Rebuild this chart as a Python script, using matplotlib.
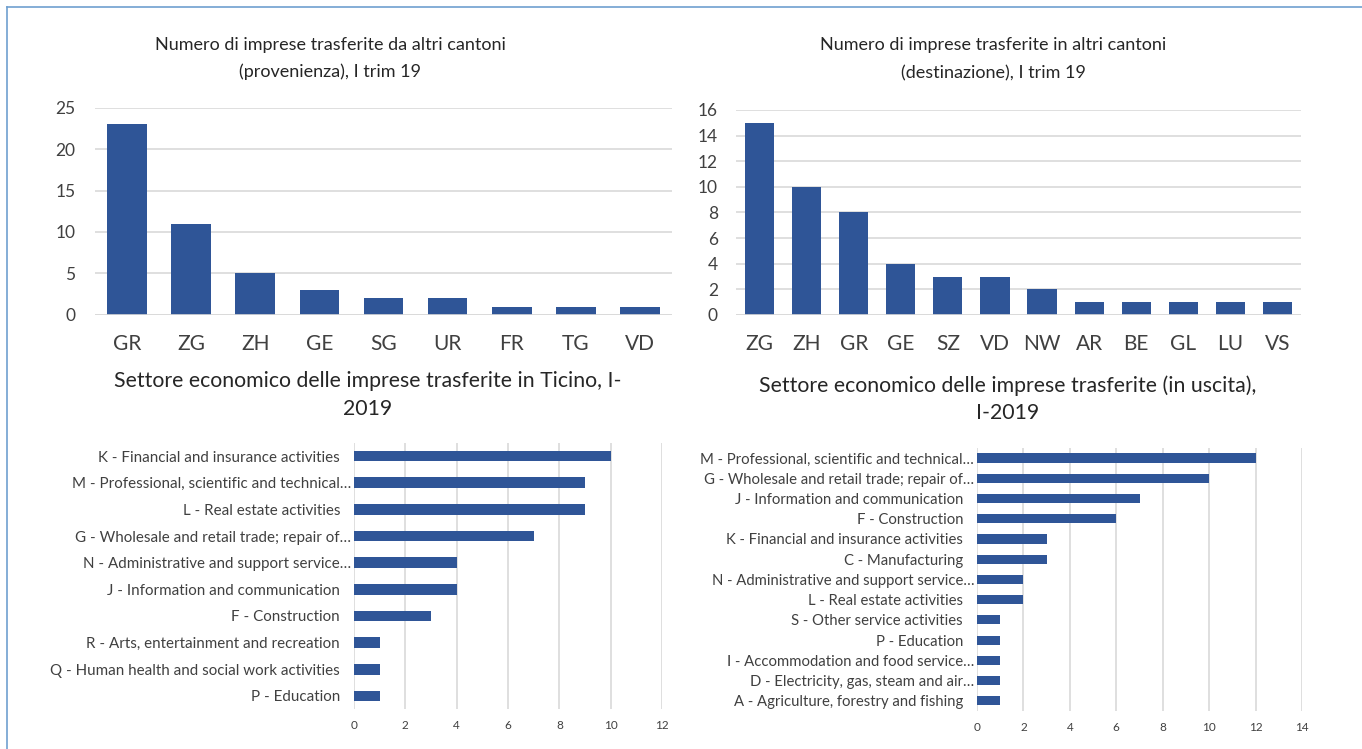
import matplotlib
matplotlib.use("Agg")
import matplotlib.pyplot as plt
from matplotlib.lines import Line2D

plt.rcParams['font.family'] = ['Lato', 'DejaVu Sans']

# ---- data ----
prov_cantons = ["GR", "ZG", "ZH", "GE", "SG", "UR", "FR", "TG", "VD"]
prov_values = [23, 11, 5, 3, 2, 2, 1, 1, 1]

dest_cantons = ["ZG", "ZH", "GR", "GE", "SZ", "VD", "NW", "AR", "BE", "GL", "LU", "VS"]
dest_values = [15, 10, 8, 4, 3, 3, 2, 1, 1, 1, 1, 1]

in_sectors = [
    "K - Financial and insurance activities",
    "M - Professional, scientific and technical…",
    "L - Real estate activities",
    "G - Wholesale and retail trade; repair of…",
    "N - Administrative and support service…",
    "J - Information and communication",
    "F - Construction",
    "R - Arts, entertainment and recreation",
    "Q - Human health and social work activities",
    "P - Education",
]
in_values = [10, 9, 9, 7, 4, 4, 3, 1, 1, 1]

out_sectors = [
    "M - Professional, scientific and technical…",
    "G - Wholesale and retail trade; repair of…",
    "J - Information and communication",
    "F - Construction",
    "K - Financial and insurance activities",
    "C - Manufacturing",
    "N - Administrative and support service…",
    "L - Real estate activities",
    "S - Other service activities",
    "P - Education",
    "I - Accommodation and food service…",
    "D - Electricity, gas, steam and air…",
    "A - Agriculture, forestry and fishing",
]
out_values = [12, 10, 7, 6, 3, 3, 2, 2, 1, 1, 1, 1, 1]

prov_yticks = [0, 5, 10, 15, 20, 25]
dest_yticks = [0, 2, 4, 6, 8, 10, 12, 14, 16]
in_xticks = [0, 2, 4, 6, 8, 10, 12]
out_xticks = [0, 2, 4, 6, 8, 10, 12, 14]

BAR = "#2F5597"
GRID = "#D9D9D9"
TXT = "#404040"
TITLE = "#262626"

W, H = 1362, 749
fig = plt.figure(figsize=(W / 100, H / 100), dpi=100)


def rect(x0, y0, x1, y1):
    return [x0 / W, 1 - y1 / H, (x1 - x0) / W, (y1 - y0) / H]


def style(ax):
    for s in ax.spines.values():
        s.set_visible(False)
    ax.set_axisbelow(True)


# ---- top-left ----
ax1 = fig.add_axes(rect(95, 107.5, 672, 315))
style(ax1)
ax1.bar(range(len(prov_cantons)), prov_values, width=0.62, color=BAR)
ax1.set_xlim(-0.5, len(prov_cantons) - 0.5)
ax1.set_ylim(0, 25)
ax1.set_yticks(prov_yticks)
ax1.yaxis.grid(True, color=GRID, linewidth=1.2)
ax1.set_xticks(range(len(prov_cantons)))
ax1.set_xticklabels(prov_cantons)
ax1.tick_params(axis='x', length=0, pad=14, labelsize=15, labelcolor=TXT)
ax1.tick_params(axis='y', length=0, pad=14, labelsize=12.5, labelcolor=TXT)
ax1.axhline(0, color=GRID, linewidth=1.2)

# ---- top-right ----
ax2 = fig.add_axes(rect(736, 110, 1301, 315))
style(ax2)
ax2.bar(range(len(dest_cantons)), dest_values, width=0.62, color=BAR)
ax2.set_xlim(-0.5, len(dest_cantons) - 0.5)
ax2.set_ylim(0, 16)
ax2.set_yticks(dest_yticks)
ax2.yaxis.grid(True, color=GRID, linewidth=1.2)
ax2.set_xticks(range(len(dest_cantons)))
ax2.set_xticklabels(dest_cantons)
ax2.tick_params(axis='x', length=0, pad=14, labelsize=15, labelcolor=TXT)
ax2.tick_params(axis='y', length=0, pad=13, labelsize=12.5, labelcolor=TXT)
ax2.axhline(0, color=GRID, linewidth=1.2)

# ---- bottom-left ----
ax3 = fig.add_axes(rect(354, 442.7, 662, 709.3))
style(ax3)
ax3.barh(range(len(in_sectors)), in_values, height=0.4, color=BAR)
ax3.set_ylim(len(in_sectors) - 0.5, -0.5)
ax3.set_xlim(0, 12)
ax3.set_xticks(in_xticks)
ax3.xaxis.grid(True, color=GRID, linewidth=1.2)
ax3.set_yticks(range(len(in_sectors)))
ax3.set_yticklabels(in_sectors)
ax3.tick_params(axis='y', length=0, pad=10, labelsize=10.9, labelcolor=TXT)
ax3.tick_params(axis='x', length=0, pad=8, labelsize=8.5, labelcolor=TXT)
for t, lab in zip(ax3.yaxis.get_major_ticks(), in_sectors):
    t.set_pad(2 if lab.endswith("…") else 10)

# ---- bottom-right ----
ax4 = fig.add_axes(rect(977, 447.9, 1302, 711))
style(ax4)
ax4.barh(range(len(out_sectors)), out_values, height=0.45, color=BAR)
ax4.set_ylim(len(out_sectors) - 0.5, -0.5)
ax4.set_xlim(0, 14)
ax4.set_xticks(out_xticks)
ax4.xaxis.grid(True, color=GRID, linewidth=1.2)
ax4.set_yticks(range(len(out_sectors)))
ax4.set_yticklabels(out_sectors)
ax4.tick_params(axis='y', length=0, pad=10, labelsize=10.7, labelcolor=TXT)
ax4.tick_params(axis='x', length=0, pad=8, labelsize=8.5, labelcolor=TXT)
for t, lab in zip(ax4.yaxis.get_major_ticks(), out_sectors):
    t.set_pad(2 if lab.endswith("…") else 10)

# ---- titles ----
fig.text(330 / W, 1 - 45 / H, "Numero di imprese trasferite da altri cantoni",
         ha='center', va='center', fontsize=13, color=TITLE)
fig.text(330 / W, 1 - 72 / H, "(provenienza), I trim 19",
         ha='center', va='center', fontsize=13, color=TITLE)
fig.text(993 / W, 1 - 45 / H, "Numero di imprese trasferite in altri cantoni",
         ha='center', va='center', fontsize=13, color=TITLE)
fig.text(993 / W, 1 - 73 / H, "(destinazione), I trim 19",
         ha='center', va='center', fontsize=13, color=TITLE)
fig.text(368 / W, 1 - 381 / H, "Settore economico delle imprese trasferite in Ticino, I-",
         ha='center', va='center', fontsize=15.3, color=TITLE)
fig.text(368 / W, 1 - 409 / H, "2019",
         ha='center', va='center', fontsize=15.3, color=TITLE)
fig.text(1008 / W, 1 - 386 / H, "Settore economico delle imprese trasferite (in uscita),",
         ha='center', va='center', fontsize=15.3, color=TITLE)
fig.text(1008 / W, 1 - 413 / H, "I-2019",
         ha='center', va='center', fontsize=15.3, color=TITLE)

# ---- frame lines ----
fig.add_artist(Line2D([7 / W, 1], [1 - 7 / H, 1 - 7 / H], transform=fig.transFigure,
                      color="#6FA0CF", linewidth=1.2))
fig.add_artist(Line2D([7 / W, 7 / W], [0, 1 - 7 / H], transform=fig.transFigure,
                      color="#6FA0CF", linewidth=1.2))

fig.savefig("out.png", dpi=100, facecolor="white")
